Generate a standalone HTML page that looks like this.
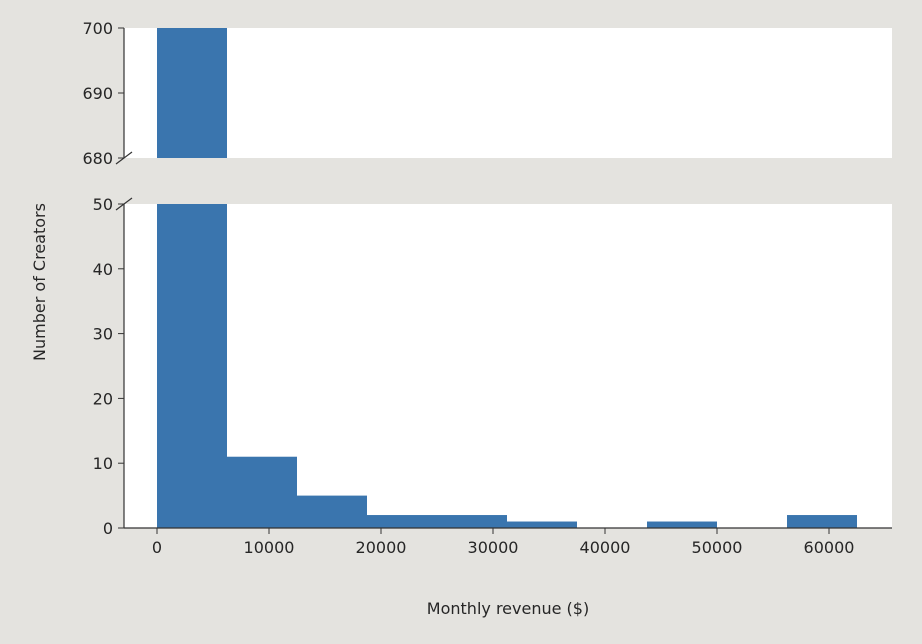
<!DOCTYPE html>
<html><head><meta charset="utf-8"><style>
body{margin:0;background:#e4e3df;}
svg{display:block;font-family:"DejaVu Sans","Liberation Sans",sans-serif;}
</style></head><body>
<svg id="c" width="922" height="644" viewBox="0 0 922 644">
<rect x="0" y="0" width="922" height="644" fill="#e4e3df"/>
<rect x="124" y="28" width="768" height="130" fill="#fff"/>
<rect x="124" y="204" width="768" height="324" fill="#fff"/>
<g id="bars"></g>
<g id="axes" stroke="#333" stroke-width="1.2" fill="none">
<line x1="124" y1="28" x2="124" y2="158"/>
<line x1="124" y1="204" x2="124" y2="528"/>
<line x1="124" y1="528" x2="892" y2="528"/>
<line x1="116" y1="164" x2="132" y2="152"/>
<line x1="116" y1="210" x2="132" y2="198"/>
</g>
<g id="ticks" font-size="16" fill="#262626"></g>
<text x="45" y="282" font-size="16" fill="#262626" text-anchor="middle" transform="rotate(-90 45 282)">Number of Creators</text>
<text x="508" y="614" font-size="16" fill="#262626" text-anchor="middle">Monthly revenue ($)</text>
</svg>
<script>
const binEdges=[0,6250,12500,18750,25000,31250,37500,43750,50000,56250,62500];
const counts=[706,11,5,2,2,1,0,1,0,2];
const xTicks=[0,10000,20000,30000,40000,50000,60000];
const topYTicks=[680,690,700];
const bottomYTicks=[0,10,20,30,40,50];
const NS="http://www.w3.org/2000/svg";
const xs=v=>157+v*(829-157)/60000;
const yb=v=>528-v*(324/50);
const yt=v=>158-(v-680)*(130/20);
const bars=document.getElementById('bars'),ticks=document.getElementById('ticks');
function mk(t,a,p){const e=document.createElementNS(NS,t);for(const k in a)e.setAttribute(k,a[k]);p.appendChild(e);return e;}
counts.forEach((c,i)=>{
 if(c<=0)return;
 const x0=xs(binEdges[i]),x1=xs(binEdges[i+1]);
 const top=Math.max(yb(Math.min(c,50)),204);
 const r=mk('rect',{x:x0,y:top,width:x1-x0,height:528-top,fill:'#3a75ae'},bars);
 
 
 if(c>680){
  const t2=Math.max(yt(c),28);
  const r2=mk('rect',{x:x0,y:t2,width:x1-x0,height:158-t2,fill:'#3a75ae'},bars);
  
  
 }
});
xTicks.forEach(v=>{
 mk('line',{x1:xs(v),x2:xs(v),y1:528,y2:534,stroke:'#333'},ticks);
 const t=mk('text',{x:xs(v),y:553,'text-anchor':'middle'},ticks);t.textContent=v;
 
 
});
bottomYTicks.forEach(v=>{
 mk('line',{x1:118,x2:124,y1:yb(v),y2:yb(v),stroke:'#333'},ticks);
 const t=mk('text',{x:113,y:yb(v)+6,'text-anchor':'end'},ticks);t.textContent=v;
 
 
});
topYTicks.forEach(v=>{
 mk('line',{x1:118,x2:124,y1:yt(v),y2:yt(v),stroke:'#333'},ticks);
 const t=mk('text',{x:113,y:yt(v)+6,'text-anchor':'end'},ticks);t.textContent=v;
 
 
});
</script>
</body></html>
